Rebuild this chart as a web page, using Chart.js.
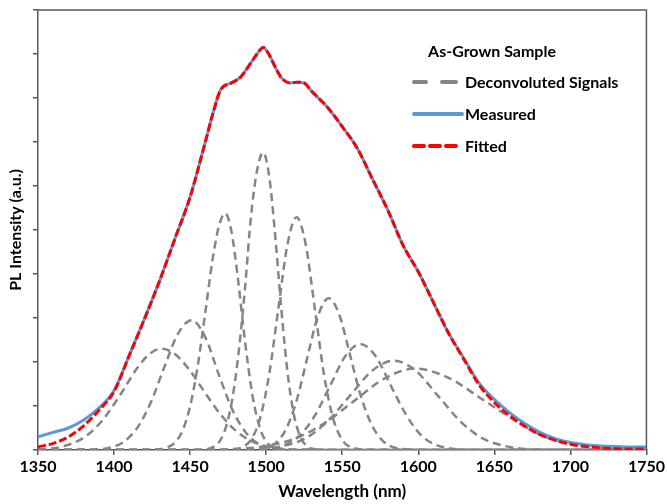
<!DOCTYPE html>
<html>
<head>
<meta charset="utf-8">
<script src="https://cdn.jsdelivr.net/npm/chart.js@4.4.1/dist/chart.umd.min.js"></script>
<style>
  html, body { margin: 0; padding: 0; background: #fff; }
  #wrap { width: 667px; height: 504px; }
</style>
</head>
<body>
<div id="wrap"><canvas id="c" width="667" height="504"></canvas></div>
<script>
// ---- Data ----
const xTicks = [1350, 1400, 1450, 1500, 1550, 1600, 1650, 1700, 1750];

const measuredX = [1350,1360,1370,1380,1390,1400,1410,1420,1430,1440,1450,1460,1465,1470,1477,1483,1490,1494,1498,1502,1506,1510,1516,1520,1525,1530,1540,1550,1560,1570,1580,1590,1600,1610,1620,1630,1640,1650,1660,1670,1680,1690,1700,1710,1720,1730,1740,1750];
const measuredY = [0.30,0.40,0.50,0.68,0.95,1.35,2.15,2.98,3.85,4.80,5.75,7.00,7.65,8.18,8.34,8.47,8.80,9.00,9.15,8.98,8.70,8.46,8.34,8.36,8.34,8.15,7.80,7.35,6.85,6.15,5.45,4.65,4.05,3.35,2.65,2.08,1.52,1.15,0.85,0.60,0.40,0.26,0.17,0.12,0.09,0.08,0.07,0.07];
const fittedY   = [0.07,0.15,0.30,0.55,0.90,1.33,2.15,2.98,3.85,4.80,5.75,7.00,7.65,8.18,8.34,8.47,8.80,9.00,9.15,8.98,8.70,8.46,8.34,8.36,8.34,8.15,7.80,7.35,6.85,6.15,5.45,4.65,4.05,3.35,2.65,2.06,1.48,1.08,0.78,0.54,0.35,0.22,0.13,0.08,0.05,0.03,0.02,0.02];

const compAX = [1350,1365,1380,1392,1404,1416,1424,1431,1440,1450,1460,1470,1480,1490,1505,1525,1750];
const compAY = [0.01,0.07,0.28,0.66,1.25,1.90,2.20,2.30,2.18,1.80,1.29,0.81,0.44,0.21,0.05,0.01,0];
const compBX = [1350,1380,1397,1406,1415,1424,1433,1442,1451,1460,1469,1478,1487,1496,1505,1520,1750];
const compBY = [0,0,0.05,0.18,0.49,1.07,1.88,2.64,2.95,2.56,1.70,0.90,0.38,0.12,0.03,0,0];
const compCX = [1350,1425,1432,1440,1445,1450,1455,1460,1465,1469,1473,1477,1481,1486,1491,1496,1501,1508,1520,1750];
const compCY = [0,0,0.03,0.17,0.44,0.99,1.91,3.13,4.38,5.10,5.38,5.00,4.02,2.50,1.24,0.49,0.15,0.02,0,0];
const compDX = [1350,1455,1464,1470,1474,1478,1482,1486,1490,1494,1498,1502,1506,1510,1514,1518,1522,1526,1532,1545,1750];
const compDY = [0,0,0.05,0.23,0.57,1.21,2.25,3.64,5.30,6.35,6.76,6.22,4.85,3.19,1.78,0.84,0.34,0.11,0.02,0,0];
const compEX = [1350,1475,1484,1490,1496,1502,1508,1514,1520,1526,1532,1538,1544,1550,1556,1570,1750];
const compEY = [0,0,0.06,0.23,0.72,1.72,3.21,4.67,5.29,4.67,3.21,1.72,0.72,0.23,0.06,0,0];
const compFX = [1350,1490,1499,1506,1513,1520,1527,1534,1541,1548,1555,1562,1569,1576,1583,1592,1610,1750];
const compFY = [0,0,0.04,0.15,0.47,1.12,2.09,3.04,3.45,3.08,2.18,1.25,0.60,0.23,0.07,0.02,0,0];
const compGX = [1350,1490,1502,1512,1522,1532,1542,1552,1562,1572,1582,1592,1602,1612,1622,1640,1750];
const compGY = [0,0,0.03,0.11,0.33,0.78,1.46,2.13,2.41,2.13,1.46,0.80,0.33,0.11,0.03,0,0];
const compHX = [1350,1480,1497,1511,1526,1540,1555,1570,1584,1598,1613,1628,1642,1657,1671,1690,1750];
const compHY = [0,0,0.02,0.09,0.27,0.64,1.23,1.81,2.03,1.81,1.23,0.64,0.27,0.09,0.02,0,0];
const compIX = [1350,1460,1478,1498,1518,1538,1558,1578,1598,1620,1640,1660,1680,1700,1720,1740,1750];
const compIY = [0,0,0.02,0.08,0.25,0.60,1.12,1.63,1.85,1.64,1.20,0.75,0.35,0.14,0.05,0.01,0];

const components = [
  [compAX, compAY], [compBX, compBY], [compCX, compCY], [compDX, compDY], [compEX, compEY],
  [compFX, compFY], [compGX, compGY], [compHX, compHY], [compIX, compIY]
];

const legendTitle = 'As-Grown Sample';
const legendLabels = ['Deconvoluted Signals', 'Measured', 'Fitted'];

// ---- Build datasets ----
function pts(xs, ys) { return xs.map((x, i) => ({ x: x, y: ys[i] })); }

const GRAY = '#858585';
const BLUE = '#5b9bd5';
const RED = '#ff0000';
const AXIS = '#595959';
const FONT = 'Lato';

const datasets = components.map(([xs, ys], i) => ({
  label: 'comp' + i,
  data: pts(xs, ys),
  borderColor: GRAY,
  borderWidth: 2.5,
  borderDash: [8, 5],
  pointRadius: 0,
  fill: false,
  order: 3,
  cubicInterpolationMode: 'monotone'
}));
datasets.push({
  label: 'Measured',
  data: pts(measuredX, measuredY),
  borderColor: BLUE,
  borderWidth: 3,
  pointRadius: 0,
  fill: false,
  order: 2,
  cubicInterpolationMode: 'monotone'
});
datasets.push({
  label: 'Fitted',
  data: pts(measuredX, fittedY),
  borderColor: RED,
  borderWidth: 3,
  borderDash: [8, 3],
  pointRadius: 0,
  fill: false,
  order: 1,
  cubicInterpolationMode: 'monotone'
});

const framePlugin = {
  id: 'frame',
  afterDatasetsDraw(chart) {
    const { ctx, chartArea: a } = chart;
    ctx.save();
    ctx.strokeStyle = AXIS;
    ctx.lineWidth = 1.5;
    ctx.setLineDash([]);
    ctx.beginPath();
    ctx.moveTo(a.left, a.top);
    ctx.lineTo(a.right, a.top);
    ctx.lineTo(a.right, a.bottom);
    ctx.stroke();

    // legend
    const lx = a.left + 374, ty = a.top + 42;
    ctx.fillStyle = '#000';
    ctx.textBaseline = 'middle';
    ctx.font = 'bold 16px ' + FONT;
    ctx.textAlign = 'center';
    ctx.fillText(legendTitle, a.left + 454, ty);
    ctx.textAlign = 'left';

    const textX = lx + 53;
    const rows = [ty + 30, ty + 62, ty + 94];
    ctx.lineCap = 'round';
    // Deconvoluted
    ctx.strokeStyle = GRAY; ctx.lineWidth = 4;
    ctx.beginPath(); ctx.moveTo(lx + 2, rows[0]); ctx.lineTo(lx + 14, rows[0]); ctx.stroke();
    ctx.beginPath(); ctx.moveTo(lx + 30, rows[0]); ctx.lineTo(lx + 44, rows[0]); ctx.stroke();
    // Measured
    ctx.strokeStyle = BLUE; ctx.lineWidth = 4;
    ctx.beginPath(); ctx.moveTo(lx + 2, rows[1]); ctx.lineTo(lx + 50, rows[1]); ctx.stroke();
    // Fitted
    ctx.strokeStyle = RED; ctx.lineWidth = 4;
    [[2, 12], [18, 28], [34, 44]].forEach(([s, e]) => {
      ctx.beginPath(); ctx.moveTo(lx + s, rows[2]); ctx.lineTo(lx + e, rows[2]); ctx.stroke();
    });
    legendLabels.forEach((t, i) => ctx.fillText(t, textX, rows[i] + 1));
    ctx.restore();
  }
};

new Chart(document.getElementById('c'), {
  type: 'line',
  data: { datasets: datasets },
  options: {
    responsive: false,
    animation: false,
    devicePixelRatio: 1,
    layout: { padding: { top: 10, right: 15, left: 0, bottom: 0 } },
    plugins: { legend: { display: false }, tooltip: { enabled: false } },
    scales: {
      x: {
        type: 'linear',
        min: 1350, max: 1750,
        afterBuildTicks(s) { s.ticks = xTicks.map(v => ({ value: v })); },
        afterFit(s) { s.height = 54; },
        ticks: { font: { family: FONT, size: 16, weight: 'bold' }, color: '#000', padding: 2, maxRotation: 0, callback: v => String(v) },
        grid: { drawOnChartArea: false, drawTicks: true, tickLength: 5, color: AXIS, lineWidth: 1.5 },
        border: { color: AXIS, width: 1.5 },
        title: { display: true, text: 'Wavelength (nm)', font: { family: FONT, size: 17, weight: 'bold' }, color: '#000', padding: { top: 0, bottom: 2 } }
      },
      y: {
        min: 0, max: 10,
        ticks: { stepSize: 1, display: false },
        afterFit(s) { s.width = 38; },
        grid: { drawOnChartArea: false, drawTicks: true, tickLength: 5, color: AXIS, lineWidth: 1.5 },
        border: { color: AXIS, width: 1.5 },
        title: { display: true, text: 'PL Intensity (a.u.)', font: { family: FONT, size: 16, weight: 'bold' }, color: '#000', padding: { top: 6, bottom: 0 } }
      }
    }
  },
  plugins: [framePlugin]
});
</script>
</body>
</html>
